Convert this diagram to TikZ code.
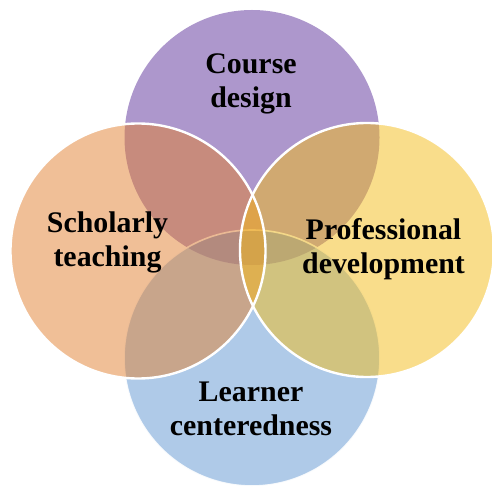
\documentclass[tikz,border=0pt]{standalone}
\usepackage{fontspec}
\setmainfont{Liberation Serif}
\definecolor{cpurple}{RGB}{91,48,153}
\definecolor{cblue}{RGB}{95,149,209}
\definecolor{corange}{RGB}{226,128,48}
\definecolor{cyellow}{RGB}{244,188,24}
\tikzset{
  disc/.style={opacity=1, fill opacity=0.5},
  label/.style={align=center, inner sep=0pt, font=\fontsize{30}{34}\selectfont\bfseries, text=black},
}
\begin{document}
\begin{tikzpicture}[x=1bp, y=-1bp]
\useasboundingbox (0,0) rectangle (492,487);
\clip (0,0) rectangle (492,487);
\coordinate (ctop) at (252,137.5);
\coordinate (cbot) at (252,358);
\coordinate (cleft) at (138,251);
\coordinate (cright) at (367,250);
% fills
\fill[disc, cpurple] (ctop) circle (127.5bp);
\fill[disc, cblue] (cbot) circle (128bp);
\draw[white, line width=1.6bp, draw opacity=0.9] (cbot) circle (128bp);
\fill[disc, corange] (cleft) circle (127.5bp);
\fill[disc, cyellow] (cright) circle (127bp);
% borders
\draw[white, line width=2.4bp] (cleft) circle (127.5bp);
\draw[white, line width=2.4bp] (cright) circle (127bp);
% labels
\node[label] (course) at (251,84) {Course\\design};
\node[label] (schol) at (107.5,242.5) {Scholarly\\teaching};
\node[label] (prof) at (383.5,249.5) {Professional\\development};
\node[label] (learn) at (251,408.5) {Learner\\centeredness};
\end{tikzpicture}
\end{document}
